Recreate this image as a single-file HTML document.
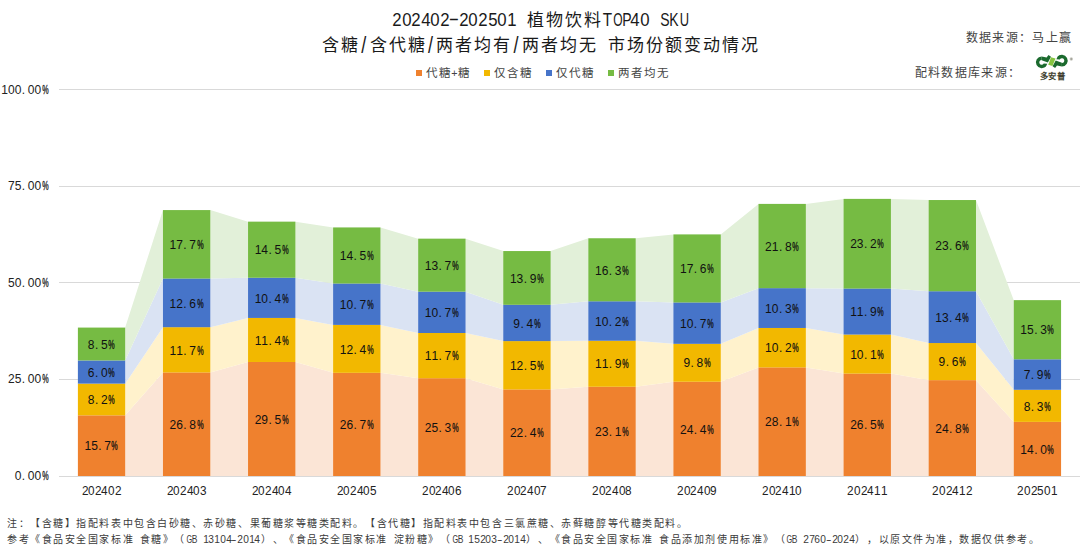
<!DOCTYPE html>
<html lang="zh-CN"><head><meta charset="utf-8"><style>
html,body{margin:0;padding:0;background:#fff;width:1080px;height:549px;overflow:hidden;position:relative;font-family:"Liberation Sans",sans-serif;color:#000}
svg{position:absolute;left:0;top:0}
.r{position:absolute;white-space:nowrap}
.r i{display:inline-block;font-style:normal;text-align:center}
.n{font-size:12px;line-height:16px}
.n i.d{text-align:left;text-indent:0.5px}
.n i.p b{display:inline-block;font-weight:normal;-webkit-text-stroke:0.35px currentColor;transform:scaleX(0.6);transform-origin:center;position:relative;left:-1.5px}
.t{color:#1a1a1a}
.r i b{display:inline-block;font-weight:normal}
.sq{position:absolute;width:6px;height:6px;top:70px}
</style></head><body>
<svg width="1080" height="549" viewBox="0 0 1080 549">
<line x1="59.0" y1="379.5" x2="1080" y2="379.5" stroke="#D9D9D9" stroke-width="1"/>
<line x1="59.0" y1="282.5" x2="1080" y2="282.5" stroke="#D9D9D9" stroke-width="1"/>
<line x1="59.0" y1="186.5" x2="1080" y2="186.5" stroke="#D9D9D9" stroke-width="1"/>
<line x1="59.0" y1="89.5" x2="1080" y2="89.5" stroke="#D9D9D9" stroke-width="1"/>
<polygon points="125.19,415.32 162.97,372.42 210.27,372.42 248.05,361.98 295.35,361.98 333.13,372.80 380.43,372.80 418.21,378.22 465.51,378.22 503.29,389.42 550.59,389.42 588.37,386.72 635.67,386.72 673.45,381.69 720.75,381.69 758.53,367.39 805.83,367.39 843.61,373.58 890.91,373.58 928.69,380.15 975.99,380.15 1013.77,421.89 1013.77,476.00 975.99,476.00 928.69,476.00 890.91,476.00 843.61,476.00 805.83,476.00 758.53,476.00 720.75,476.00 673.45,476.00 635.67,476.00 588.37,476.00 550.59,476.00 503.29,476.00 465.51,476.00 418.21,476.00 380.43,476.00 333.13,476.00 295.35,476.00 248.05,476.00 210.27,476.00 162.97,476.00 125.19,476.00" fill="#FBE5D6"/>
<polygon points="125.19,383.63 162.97,327.20 210.27,327.20 248.05,317.92 295.35,317.92 333.13,324.88 380.43,324.88 418.21,333.00 465.51,333.00 503.29,341.11 550.59,341.11 588.37,340.73 635.67,340.73 673.45,343.82 720.75,343.82 758.53,327.97 805.83,327.97 843.61,334.54 890.91,334.54 928.69,343.04 975.99,343.04 1013.77,389.81 1013.77,421.89 975.99,380.15 928.69,380.15 890.91,373.58 843.61,373.58 805.83,367.39 758.53,367.39 720.75,381.69 673.45,381.69 635.67,386.72 588.37,386.72 550.59,389.42 503.29,389.42 465.51,378.22 418.21,378.22 380.43,372.80 333.13,372.80 295.35,361.98 248.05,361.98 210.27,372.42 162.97,372.42 125.19,415.32" fill="#FFF2CC"/>
<polygon points="125.19,360.44 162.97,278.50 210.27,278.50 248.05,277.73 295.35,277.73 333.13,283.52 380.43,283.52 418.21,291.64 465.51,291.64 503.29,304.78 550.59,304.78 588.37,301.30 635.67,301.30 673.45,302.46 720.75,302.46 758.53,288.16 805.83,288.16 843.61,288.55 890.91,288.55 928.69,291.25 975.99,291.25 1013.77,359.28 1013.77,389.81 975.99,343.04 928.69,343.04 890.91,334.54 843.61,334.54 805.83,327.97 758.53,327.97 720.75,343.82 673.45,343.82 635.67,340.73 588.37,340.73 550.59,341.11 503.29,341.11 465.51,333.00 418.21,333.00 380.43,324.88 333.13,324.88 295.35,317.92 248.05,317.92 210.27,327.20 162.97,327.20 125.19,383.63" fill="#DAE3F3"/>
<polygon points="125.19,327.58 162.97,210.09 210.27,210.09 248.05,221.68 295.35,221.68 333.13,227.48 380.43,227.48 418.21,238.69 465.51,238.69 503.29,251.06 550.59,251.06 588.37,238.30 635.67,238.30 673.45,234.44 720.75,234.44 758.53,203.90 805.83,203.90 843.61,198.88 890.91,198.88 928.69,200.04 975.99,200.04 1013.77,300.14 1013.77,359.28 975.99,291.25 928.69,291.25 890.91,288.55 843.61,288.55 805.83,288.16 758.53,288.16 720.75,302.46 673.45,302.46 635.67,301.30 588.37,301.30 550.59,304.78 503.29,304.78 465.51,291.64 418.21,291.64 380.43,283.52 333.13,283.52 295.35,277.73 248.05,277.73 210.27,278.50 162.97,278.50 125.19,360.44" fill="#E2F0D9"/>
<line x1="59.0" y1="476.5" x2="1080" y2="476.5" stroke="#D9D9D9" stroke-width="1"/>
<rect x="77.89" y="415.32" width="47.3" height="60.68" fill="#EF812E"/>
<rect x="77.89" y="383.63" width="47.3" height="31.69" fill="#F2B800"/>
<rect x="77.89" y="360.44" width="47.3" height="23.19" fill="#4674C9"/>
<rect x="77.89" y="327.58" width="47.3" height="32.85" fill="#76BB43"/>
<rect x="162.97" y="372.42" width="47.3" height="103.58" fill="#EF812E"/>
<rect x="162.97" y="327.20" width="47.3" height="45.22" fill="#F2B800"/>
<rect x="162.97" y="278.50" width="47.3" height="48.70" fill="#4674C9"/>
<rect x="162.97" y="210.09" width="47.3" height="68.41" fill="#76BB43"/>
<rect x="248.05" y="361.98" width="47.3" height="114.02" fill="#EF812E"/>
<rect x="248.05" y="317.92" width="47.3" height="44.06" fill="#F2B800"/>
<rect x="248.05" y="277.73" width="47.3" height="40.20" fill="#4674C9"/>
<rect x="248.05" y="221.68" width="47.3" height="56.04" fill="#76BB43"/>
<rect x="333.13" y="372.80" width="47.3" height="103.20" fill="#EF812E"/>
<rect x="333.13" y="324.88" width="47.3" height="47.93" fill="#F2B800"/>
<rect x="333.13" y="283.52" width="47.3" height="41.36" fill="#4674C9"/>
<rect x="333.13" y="227.48" width="47.3" height="56.04" fill="#76BB43"/>
<rect x="418.21" y="378.22" width="47.3" height="97.78" fill="#EF812E"/>
<rect x="418.21" y="333.00" width="47.3" height="45.22" fill="#F2B800"/>
<rect x="418.21" y="291.64" width="47.3" height="41.36" fill="#4674C9"/>
<rect x="418.21" y="238.69" width="47.3" height="52.95" fill="#76BB43"/>
<rect x="503.29" y="389.42" width="47.3" height="86.58" fill="#EF812E"/>
<rect x="503.29" y="341.11" width="47.3" height="48.31" fill="#F2B800"/>
<rect x="503.29" y="304.78" width="47.3" height="36.33" fill="#4674C9"/>
<rect x="503.29" y="251.06" width="47.3" height="53.72" fill="#76BB43"/>
<rect x="588.37" y="386.72" width="47.3" height="89.28" fill="#EF812E"/>
<rect x="588.37" y="340.73" width="47.3" height="45.99" fill="#F2B800"/>
<rect x="588.37" y="301.30" width="47.3" height="39.42" fill="#4674C9"/>
<rect x="588.37" y="238.30" width="47.3" height="63.00" fill="#76BB43"/>
<rect x="673.45" y="381.69" width="47.3" height="94.31" fill="#EF812E"/>
<rect x="673.45" y="343.82" width="47.3" height="37.88" fill="#F2B800"/>
<rect x="673.45" y="302.46" width="47.3" height="41.36" fill="#4674C9"/>
<rect x="673.45" y="234.44" width="47.3" height="68.02" fill="#76BB43"/>
<rect x="758.53" y="367.39" width="47.3" height="108.61" fill="#EF812E"/>
<rect x="758.53" y="327.97" width="47.3" height="39.42" fill="#F2B800"/>
<rect x="758.53" y="288.16" width="47.3" height="39.81" fill="#4674C9"/>
<rect x="758.53" y="203.90" width="47.3" height="84.26" fill="#76BB43"/>
<rect x="843.61" y="373.58" width="47.3" height="102.42" fill="#EF812E"/>
<rect x="843.61" y="334.54" width="47.3" height="39.04" fill="#F2B800"/>
<rect x="843.61" y="288.55" width="47.3" height="45.99" fill="#4674C9"/>
<rect x="843.61" y="198.88" width="47.3" height="89.67" fill="#76BB43"/>
<rect x="928.69" y="380.15" width="47.3" height="95.85" fill="#EF812E"/>
<rect x="928.69" y="343.04" width="47.3" height="37.10" fill="#F2B800"/>
<rect x="928.69" y="291.25" width="47.3" height="51.79" fill="#4674C9"/>
<rect x="928.69" y="200.04" width="47.3" height="91.21" fill="#76BB43"/>
<rect x="1013.77" y="421.89" width="47.3" height="54.11" fill="#EF812E"/>
<rect x="1013.77" y="389.81" width="47.3" height="32.08" fill="#F2B800"/>
<rect x="1013.77" y="359.28" width="47.3" height="30.53" fill="#4674C9"/>
<rect x="1013.77" y="300.14" width="47.3" height="59.13" fill="#76BB43"/>
<path d="M1041.70,58.25 A4.1,4.1 0 1 0 1045.06,64.70" fill="none" stroke="#1B6A2E" stroke-width="3.4"/>
<polygon points="1041.70,56.50 1046.60,57.50 1048.50,55.10 1051.00,56.80 1047.90,62.40 1041.70,60.20" fill="#1B6A2E"/><polygon points="1043.60,63.60 1047.30,63.70 1045.90,66.30 1044.50,67.20" fill="#1B6A2E"/>
<path d="M1061.90,64.75 A4.1,4.1 0 1 0 1058.54,58.30" fill="none" stroke="#1B6A2E" stroke-width="3.4"/>
<polygon points="1061.90,66.50 1057.00,65.50 1055.10,67.90 1052.60,66.20 1055.70,60.60 1061.90,62.80" fill="#1B6A2E"/><polygon points="1060.00,59.40 1056.30,59.30 1057.70,56.70 1059.10,55.80" fill="#1B6A2E"/>
<polygon points="1051.00,57.20 1055.50,58.50 1052.50,66.00 1048.20,64.70" fill="#86C540"/>
<circle cx="1071.3" cy="59.0" r="1.7" fill="#C8C8C0"/><circle cx="1071.3" cy="59.0" r="0.8" fill="#909088"/>
</svg>
<div class="r n" style="left:84.48px;top:438.36px;color:#111"><i style="width:6.67px">1</i><i style="width:6.67px">5</i><i class="d" style="width:6.5px">.</i><i style="width:6.67px">7</i><i class="p" style="width:6.0px"><b>%</b></i></div>
<div class="r n" style="left:87.82px;top:392.17px;color:#111"><i style="width:6.67px">8</i><i class="d" style="width:6.5px">.</i><i style="width:6.67px">2</i><i class="p" style="width:6.0px"><b>%</b></i></div>
<div class="r n" style="left:87.82px;top:364.73px;color:#111"><i style="width:6.67px">6</i><i class="d" style="width:6.5px">.</i><i style="width:6.67px">0</i><i class="p" style="width:6.0px"><b>%</b></i></div>
<div class="r n" style="left:87.82px;top:336.71px;color:#111"><i style="width:6.67px">8</i><i class="d" style="width:6.5px">.</i><i style="width:6.67px">5</i><i class="p" style="width:6.0px"><b>%</b></i></div>
<div class="r " style="left:81.53px;top:483.50px;font-size:12px;line-height:14px;color:#222;"><i style="width:6.67px"><b style="transform:scaleX(0.979)">2</b></i><i style="width:6.67px"><b style="transform:scaleX(0.979)">0</b></i><i style="width:6.67px"><b style="transform:scaleX(0.979)">2</b></i><i style="width:6.67px"><b style="transform:scaleX(0.979)">4</b></i><i style="width:6.67px"><b style="transform:scaleX(0.979)">0</b></i><i style="width:6.67px"><b style="transform:scaleX(0.979)">2</b></i></div>
<div class="r n" style="left:169.56px;top:416.91px;color:#111"><i style="width:6.67px">2</i><i style="width:6.67px">6</i><i class="d" style="width:6.5px">.</i><i style="width:6.67px">8</i><i class="p" style="width:6.0px"><b>%</b></i></div>
<div class="r n" style="left:169.56px;top:342.51px;color:#111"><i style="width:6.67px">1</i><i style="width:6.67px">1</i><i class="d" style="width:6.5px">.</i><i style="width:6.67px">7</i><i class="p" style="width:6.0px"><b>%</b></i></div>
<div class="r n" style="left:169.56px;top:295.55px;color:#111"><i style="width:6.67px">1</i><i style="width:6.67px">2</i><i class="d" style="width:6.5px">.</i><i style="width:6.67px">6</i><i class="p" style="width:6.0px"><b>%</b></i></div>
<div class="r n" style="left:169.56px;top:236.99px;color:#111"><i style="width:6.67px">1</i><i style="width:6.67px">7</i><i class="d" style="width:6.5px">.</i><i style="width:6.67px">7</i><i class="p" style="width:6.0px"><b>%</b></i></div>
<div class="r " style="left:166.61px;top:483.50px;font-size:12px;line-height:14px;color:#222;"><i style="width:6.67px"><b style="transform:scaleX(0.979)">2</b></i><i style="width:6.67px"><b style="transform:scaleX(0.979)">0</b></i><i style="width:6.67px"><b style="transform:scaleX(0.979)">2</b></i><i style="width:6.67px"><b style="transform:scaleX(0.979)">4</b></i><i style="width:6.67px"><b style="transform:scaleX(0.979)">0</b></i><i style="width:6.67px"><b style="transform:scaleX(0.979)">3</b></i></div>
<div class="r n" style="left:254.64px;top:411.69px;color:#111"><i style="width:6.67px">2</i><i style="width:6.67px">9</i><i class="d" style="width:6.5px">.</i><i style="width:6.67px">5</i><i class="p" style="width:6.0px"><b>%</b></i></div>
<div class="r n" style="left:254.64px;top:332.65px;color:#111"><i style="width:6.67px">1</i><i style="width:6.67px">1</i><i class="d" style="width:6.5px">.</i><i style="width:6.67px">4</i><i class="p" style="width:6.0px"><b>%</b></i></div>
<div class="r n" style="left:254.64px;top:290.52px;color:#111"><i style="width:6.67px">1</i><i style="width:6.67px">0</i><i class="d" style="width:6.5px">.</i><i style="width:6.67px">4</i><i class="p" style="width:6.0px"><b>%</b></i></div>
<div class="r n" style="left:254.64px;top:242.40px;color:#111"><i style="width:6.67px">1</i><i style="width:6.67px">4</i><i class="d" style="width:6.5px">.</i><i style="width:6.67px">5</i><i class="p" style="width:6.0px"><b>%</b></i></div>
<div class="r " style="left:251.69px;top:483.50px;font-size:12px;line-height:14px;color:#222;"><i style="width:6.67px"><b style="transform:scaleX(0.979)">2</b></i><i style="width:6.67px"><b style="transform:scaleX(0.979)">0</b></i><i style="width:6.67px"><b style="transform:scaleX(0.979)">2</b></i><i style="width:6.67px"><b style="transform:scaleX(0.979)">4</b></i><i style="width:6.67px"><b style="transform:scaleX(0.979)">0</b></i><i style="width:6.67px"><b style="transform:scaleX(0.979)">4</b></i></div>
<div class="r n" style="left:339.72px;top:417.10px;color:#111"><i style="width:6.67px">2</i><i style="width:6.67px">6</i><i class="d" style="width:6.5px">.</i><i style="width:6.67px">7</i><i class="p" style="width:6.0px"><b>%</b></i></div>
<div class="r n" style="left:339.72px;top:341.54px;color:#111"><i style="width:6.67px">1</i><i style="width:6.67px">2</i><i class="d" style="width:6.5px">.</i><i style="width:6.67px">4</i><i class="p" style="width:6.0px"><b>%</b></i></div>
<div class="r n" style="left:339.72px;top:296.90px;color:#111"><i style="width:6.67px">1</i><i style="width:6.67px">0</i><i class="d" style="width:6.5px">.</i><i style="width:6.67px">7</i><i class="p" style="width:6.0px"><b>%</b></i></div>
<div class="r n" style="left:339.72px;top:248.20px;color:#111"><i style="width:6.67px">1</i><i style="width:6.67px">4</i><i class="d" style="width:6.5px">.</i><i style="width:6.67px">5</i><i class="p" style="width:6.0px"><b>%</b></i></div>
<div class="r " style="left:336.77px;top:483.50px;font-size:12px;line-height:14px;color:#222;"><i style="width:6.67px"><b style="transform:scaleX(0.979)">2</b></i><i style="width:6.67px"><b style="transform:scaleX(0.979)">0</b></i><i style="width:6.67px"><b style="transform:scaleX(0.979)">2</b></i><i style="width:6.67px"><b style="transform:scaleX(0.979)">4</b></i><i style="width:6.67px"><b style="transform:scaleX(0.979)">0</b></i><i style="width:6.67px"><b style="transform:scaleX(0.979)">5</b></i></div>
<div class="r n" style="left:424.81px;top:419.81px;color:#111"><i style="width:6.67px">2</i><i style="width:6.67px">5</i><i class="d" style="width:6.5px">.</i><i style="width:6.67px">3</i><i class="p" style="width:6.0px"><b>%</b></i></div>
<div class="r n" style="left:424.81px;top:348.31px;color:#111"><i style="width:6.67px">1</i><i style="width:6.67px">1</i><i class="d" style="width:6.5px">.</i><i style="width:6.67px">7</i><i class="p" style="width:6.0px"><b>%</b></i></div>
<div class="r n" style="left:424.81px;top:305.02px;color:#111"><i style="width:6.67px">1</i><i style="width:6.67px">0</i><i class="d" style="width:6.5px">.</i><i style="width:6.67px">7</i><i class="p" style="width:6.0px"><b>%</b></i></div>
<div class="r n" style="left:424.81px;top:257.86px;color:#111"><i style="width:6.67px">1</i><i style="width:6.67px">3</i><i class="d" style="width:6.5px">.</i><i style="width:6.67px">7</i><i class="p" style="width:6.0px"><b>%</b></i></div>
<div class="r " style="left:421.85px;top:483.50px;font-size:12px;line-height:14px;color:#222;"><i style="width:6.67px"><b style="transform:scaleX(0.979)">2</b></i><i style="width:6.67px"><b style="transform:scaleX(0.979)">0</b></i><i style="width:6.67px"><b style="transform:scaleX(0.979)">2</b></i><i style="width:6.67px"><b style="transform:scaleX(0.979)">4</b></i><i style="width:6.67px"><b style="transform:scaleX(0.979)">0</b></i><i style="width:6.67px"><b style="transform:scaleX(0.979)">6</b></i></div>
<div class="r n" style="left:509.89px;top:425.41px;color:#111"><i style="width:6.67px">2</i><i style="width:6.67px">2</i><i class="d" style="width:6.5px">.</i><i style="width:6.67px">4</i><i class="p" style="width:6.0px"><b>%</b></i></div>
<div class="r n" style="left:509.89px;top:357.97px;color:#111"><i style="width:6.67px">1</i><i style="width:6.67px">2</i><i class="d" style="width:6.5px">.</i><i style="width:6.67px">5</i><i class="p" style="width:6.0px"><b>%</b></i></div>
<div class="r n" style="left:513.22px;top:315.65px;color:#111"><i style="width:6.67px">9</i><i class="d" style="width:6.5px">.</i><i style="width:6.67px">4</i><i class="p" style="width:6.0px"><b>%</b></i></div>
<div class="r n" style="left:509.89px;top:270.62px;color:#111"><i style="width:6.67px">1</i><i style="width:6.67px">3</i><i class="d" style="width:6.5px">.</i><i style="width:6.67px">9</i><i class="p" style="width:6.0px"><b>%</b></i></div>
<div class="r " style="left:506.93px;top:483.50px;font-size:12px;line-height:14px;color:#222;"><i style="width:6.67px"><b style="transform:scaleX(0.979)">2</b></i><i style="width:6.67px"><b style="transform:scaleX(0.979)">0</b></i><i style="width:6.67px"><b style="transform:scaleX(0.979)">2</b></i><i style="width:6.67px"><b style="transform:scaleX(0.979)">4</b></i><i style="width:6.67px"><b style="transform:scaleX(0.979)">0</b></i><i style="width:6.67px"><b style="transform:scaleX(0.979)">7</b></i></div>
<div class="r n" style="left:594.97px;top:424.06px;color:#111"><i style="width:6.67px">2</i><i style="width:6.67px">3</i><i class="d" style="width:6.5px">.</i><i style="width:6.67px">1</i><i class="p" style="width:6.0px"><b>%</b></i></div>
<div class="r n" style="left:594.97px;top:356.42px;color:#111"><i style="width:6.67px">1</i><i style="width:6.67px">1</i><i class="d" style="width:6.5px">.</i><i style="width:6.67px">9</i><i class="p" style="width:6.0px"><b>%</b></i></div>
<div class="r n" style="left:594.97px;top:313.71px;color:#111"><i style="width:6.67px">1</i><i style="width:6.67px">0</i><i class="d" style="width:6.5px">.</i><i style="width:6.67px">2</i><i class="p" style="width:6.0px"><b>%</b></i></div>
<div class="r n" style="left:594.97px;top:262.50px;color:#111"><i style="width:6.67px">1</i><i style="width:6.67px">6</i><i class="d" style="width:6.5px">.</i><i style="width:6.67px">3</i><i class="p" style="width:6.0px"><b>%</b></i></div>
<div class="r " style="left:592.01px;top:483.50px;font-size:12px;line-height:14px;color:#222;"><i style="width:6.67px"><b style="transform:scaleX(0.979)">2</b></i><i style="width:6.67px"><b style="transform:scaleX(0.979)">0</b></i><i style="width:6.67px"><b style="transform:scaleX(0.979)">2</b></i><i style="width:6.67px"><b style="transform:scaleX(0.979)">4</b></i><i style="width:6.67px"><b style="transform:scaleX(0.979)">0</b></i><i style="width:6.67px"><b style="transform:scaleX(0.979)">8</b></i></div>
<div class="r n" style="left:680.05px;top:421.55px;color:#111"><i style="width:6.67px">2</i><i style="width:6.67px">4</i><i class="d" style="width:6.5px">.</i><i style="width:6.67px">4</i><i class="p" style="width:6.0px"><b>%</b></i></div>
<div class="r n" style="left:683.38px;top:355.46px;color:#111"><i style="width:6.67px">9</i><i class="d" style="width:6.5px">.</i><i style="width:6.67px">8</i><i class="p" style="width:6.0px"><b>%</b></i></div>
<div class="r n" style="left:680.05px;top:315.84px;color:#111"><i style="width:6.67px">1</i><i style="width:6.67px">0</i><i class="d" style="width:6.5px">.</i><i style="width:6.67px">7</i><i class="p" style="width:6.0px"><b>%</b></i></div>
<div class="r n" style="left:680.05px;top:261.15px;color:#111"><i style="width:6.67px">1</i><i style="width:6.67px">7</i><i class="d" style="width:6.5px">.</i><i style="width:6.67px">6</i><i class="p" style="width:6.0px"><b>%</b></i></div>
<div class="r " style="left:677.09px;top:483.50px;font-size:12px;line-height:14px;color:#222;"><i style="width:6.67px"><b style="transform:scaleX(0.979)">2</b></i><i style="width:6.67px"><b style="transform:scaleX(0.979)">0</b></i><i style="width:6.67px"><b style="transform:scaleX(0.979)">2</b></i><i style="width:6.67px"><b style="transform:scaleX(0.979)">4</b></i><i style="width:6.67px"><b style="transform:scaleX(0.979)">0</b></i><i style="width:6.67px"><b style="transform:scaleX(0.979)">9</b></i></div>
<div class="r n" style="left:765.12px;top:414.40px;color:#111"><i style="width:6.67px">2</i><i style="width:6.67px">8</i><i class="d" style="width:6.5px">.</i><i style="width:6.67px">1</i><i class="p" style="width:6.0px"><b>%</b></i></div>
<div class="r n" style="left:765.12px;top:340.38px;color:#111"><i style="width:6.67px">1</i><i style="width:6.67px">0</i><i class="d" style="width:6.5px">.</i><i style="width:6.67px">2</i><i class="p" style="width:6.0px"><b>%</b></i></div>
<div class="r n" style="left:765.12px;top:300.77px;color:#111"><i style="width:6.67px">1</i><i style="width:6.67px">0</i><i class="d" style="width:6.5px">.</i><i style="width:6.67px">3</i><i class="p" style="width:6.0px"><b>%</b></i></div>
<div class="r n" style="left:765.12px;top:238.73px;color:#111"><i style="width:6.67px">2</i><i style="width:6.67px">1</i><i class="d" style="width:6.5px">.</i><i style="width:6.67px">8</i><i class="p" style="width:6.0px"><b>%</b></i></div>
<div class="r " style="left:762.17px;top:483.50px;font-size:12px;line-height:14px;color:#222;"><i style="width:6.67px"><b style="transform:scaleX(0.979)">2</b></i><i style="width:6.67px"><b style="transform:scaleX(0.979)">0</b></i><i style="width:6.67px"><b style="transform:scaleX(0.979)">2</b></i><i style="width:6.67px"><b style="transform:scaleX(0.979)">4</b></i><i style="width:6.67px"><b style="transform:scaleX(0.979)">1</b></i><i style="width:6.67px"><b style="transform:scaleX(0.979)">0</b></i></div>
<div class="r n" style="left:850.21px;top:417.49px;color:#111"><i style="width:6.67px">2</i><i style="width:6.67px">6</i><i class="d" style="width:6.5px">.</i><i style="width:6.67px">5</i><i class="p" style="width:6.0px"><b>%</b></i></div>
<div class="r n" style="left:850.21px;top:346.76px;color:#111"><i style="width:6.67px">1</i><i style="width:6.67px">0</i><i class="d" style="width:6.5px">.</i><i style="width:6.67px">1</i><i class="p" style="width:6.0px"><b>%</b></i></div>
<div class="r n" style="left:850.21px;top:304.24px;color:#111"><i style="width:6.67px">1</i><i style="width:6.67px">1</i><i class="d" style="width:6.5px">.</i><i style="width:6.67px">9</i><i class="p" style="width:6.0px"><b>%</b></i></div>
<div class="r n" style="left:850.21px;top:236.41px;color:#111"><i style="width:6.67px">2</i><i style="width:6.67px">3</i><i class="d" style="width:6.5px">.</i><i style="width:6.67px">2</i><i class="p" style="width:6.0px"><b>%</b></i></div>
<div class="r " style="left:847.25px;top:483.50px;font-size:12px;line-height:14px;color:#222;"><i style="width:6.67px"><b style="transform:scaleX(0.979)">2</b></i><i style="width:6.67px"><b style="transform:scaleX(0.979)">0</b></i><i style="width:6.67px"><b style="transform:scaleX(0.979)">2</b></i><i style="width:6.67px"><b style="transform:scaleX(0.979)">4</b></i><i style="width:6.67px"><b style="transform:scaleX(0.979)">1</b></i><i style="width:6.67px"><b style="transform:scaleX(0.979)">1</b></i></div>
<div class="r n" style="left:935.29px;top:420.77px;color:#111"><i style="width:6.67px">2</i><i style="width:6.67px">4</i><i class="d" style="width:6.5px">.</i><i style="width:6.67px">8</i><i class="p" style="width:6.0px"><b>%</b></i></div>
<div class="r n" style="left:938.62px;top:354.30px;color:#111"><i style="width:6.67px">9</i><i class="d" style="width:6.5px">.</i><i style="width:6.67px">6</i><i class="p" style="width:6.0px"><b>%</b></i></div>
<div class="r n" style="left:935.29px;top:309.85px;color:#111"><i style="width:6.67px">1</i><i style="width:6.67px">3</i><i class="d" style="width:6.5px">.</i><i style="width:6.67px">4</i><i class="p" style="width:6.0px"><b>%</b></i></div>
<div class="r n" style="left:935.29px;top:238.35px;color:#111"><i style="width:6.67px">2</i><i style="width:6.67px">3</i><i class="d" style="width:6.5px">.</i><i style="width:6.67px">6</i><i class="p" style="width:6.0px"><b>%</b></i></div>
<div class="r " style="left:932.33px;top:483.50px;font-size:12px;line-height:14px;color:#222;"><i style="width:6.67px"><b style="transform:scaleX(0.979)">2</b></i><i style="width:6.67px"><b style="transform:scaleX(0.979)">0</b></i><i style="width:6.67px"><b style="transform:scaleX(0.979)">2</b></i><i style="width:6.67px"><b style="transform:scaleX(0.979)">4</b></i><i style="width:6.67px"><b style="transform:scaleX(0.979)">1</b></i><i style="width:6.67px"><b style="transform:scaleX(0.979)">2</b></i></div>
<div class="r n" style="left:1020.37px;top:441.64px;color:#111"><i style="width:6.67px">1</i><i style="width:6.67px">4</i><i class="d" style="width:6.5px">.</i><i style="width:6.67px">0</i><i class="p" style="width:6.0px"><b>%</b></i></div>
<div class="r n" style="left:1023.70px;top:398.55px;color:#111"><i style="width:6.67px">8</i><i class="d" style="width:6.5px">.</i><i style="width:6.67px">3</i><i class="p" style="width:6.0px"><b>%</b></i></div>
<div class="r n" style="left:1023.70px;top:367.24px;color:#111"><i style="width:6.67px">7</i><i class="d" style="width:6.5px">.</i><i style="width:6.67px">9</i><i class="p" style="width:6.0px"><b>%</b></i></div>
<div class="r n" style="left:1020.37px;top:322.41px;color:#111"><i style="width:6.67px">1</i><i style="width:6.67px">5</i><i class="d" style="width:6.5px">.</i><i style="width:6.67px">3</i><i class="p" style="width:6.0px"><b>%</b></i></div>
<div class="r " style="left:1017.41px;top:483.50px;font-size:12px;line-height:14px;color:#222;"><i style="width:6.67px"><b style="transform:scaleX(0.979)">2</b></i><i style="width:6.67px"><b style="transform:scaleX(0.979)">0</b></i><i style="width:6.67px"><b style="transform:scaleX(0.979)">2</b></i><i style="width:6.67px"><b style="transform:scaleX(0.979)">5</b></i><i style="width:6.67px"><b style="transform:scaleX(0.979)">0</b></i><i style="width:6.67px"><b style="transform:scaleX(0.979)">1</b></i></div>
<div class="r n" style="left:14.69px;top:468.20px;color:#222"><i style="width:6.67px">0</i><i class="d" style="width:6.5px">.</i><i style="width:6.67px">0</i><i style="width:6.67px">0</i><i class="p" style="width:6.0px"><b>%</b></i></div>
<div class="r n" style="left:8.02px;top:371.20px;color:#222"><i style="width:6.67px">2</i><i style="width:6.67px">5</i><i class="d" style="width:6.5px">.</i><i style="width:6.67px">0</i><i style="width:6.67px">0</i><i class="p" style="width:6.0px"><b>%</b></i></div>
<div class="r n" style="left:8.02px;top:275.20px;color:#222"><i style="width:6.67px">5</i><i style="width:6.67px">0</i><i class="d" style="width:6.5px">.</i><i style="width:6.67px">0</i><i style="width:6.67px">0</i><i class="p" style="width:6.0px"><b>%</b></i></div>
<div class="r n" style="left:8.02px;top:178.20px;color:#222"><i style="width:6.67px">7</i><i style="width:6.67px">5</i><i class="d" style="width:6.5px">.</i><i style="width:6.67px">0</i><i style="width:6.67px">0</i><i class="p" style="width:6.0px"><b>%</b></i></div>
<div class="r n" style="left:1.35px;top:82.20px;color:#222"><i style="width:6.67px">1</i><i style="width:6.67px">0</i><i style="width:6.67px">0</i><i class="d" style="width:6.5px">.</i><i style="width:6.67px">0</i><i style="width:6.67px">0</i><i class="p" style="width:6.0px"><b>%</b></i></div>
<div class="r t" style="left:392.36px;top:9.00px;font-size:18px;line-height:22px;"><i style="width:9.53px"><b style="transform:scaleX(0.932)">2</b></i><i style="width:9.53px"><b style="transform:scaleX(0.932)">0</b></i><i style="width:9.53px"><b style="transform:scaleX(0.932)">2</b></i><i style="width:9.53px"><b style="transform:scaleX(0.932)">4</b></i><i style="width:9.53px"><b style="transform:scaleX(0.932)">0</b></i><i style="width:9.53px"><b style="transform:scaleX(0.932)">2</b></i><i style="width:9.53px"><b style="transform:scaleX(1.8) translateY(-1px)">-</b></i><i style="width:9.53px"><b style="transform:scaleX(0.932)">2</b></i><i style="width:9.53px"><b style="transform:scaleX(0.932)">0</b></i><i style="width:9.53px"><b style="transform:scaleX(0.932)">2</b></i><i style="width:9.53px"><b style="transform:scaleX(0.932)">5</b></i><i style="width:9.53px"><b style="transform:scaleX(0.932)">0</b></i><i style="width:9.53px"><b style="transform:scaleX(0.932)">1</b></i><i style="width:9.53px">&nbsp;</i><i style="width:19.05px;font-size:17px">植</i><i style="width:19.05px;font-size:17px">物</i><i style="width:19.05px;font-size:17px">饮</i><i style="width:19.05px;font-size:17px">料</i><i style="width:9.53px"><b style="transform:scaleX(0.849)">T</b></i><i style="width:9.53px"><b style="transform:scaleX(0.667)">O</b></i><i style="width:9.53px"><b style="transform:scaleX(0.777)">P</b></i><i style="width:9.53px"><b style="transform:scaleX(0.932)">4</b></i><i style="width:9.53px"><b style="transform:scaleX(0.932)">0</b></i><i style="width:9.53px">&nbsp;</i><i style="width:9.53px"><b style="transform:scaleX(0.777)">S</b></i><i style="width:9.53px"><b style="transform:scaleX(0.777)">K</b></i><i style="width:9.53px"><b style="transform:scaleX(0.718)">U</b></i></div>
<div class="r t" style="left:320.92px;top:33.70px;font-size:18px;line-height:22px;"><i style="width:19.05px;font-size:17px">含</i><i style="width:19.05px;font-size:17px">糖</i><i style="width:9.53px"><b style="transform:scaleY(1.3) translateY(0.5px)">/</b></i><i style="width:19.05px;font-size:17px">含</i><i style="width:19.05px;font-size:17px">代</i><i style="width:19.05px;font-size:17px">糖</i><i style="width:9.53px"><b style="transform:scaleY(1.3) translateY(0.5px)">/</b></i><i style="width:19.05px;font-size:17px">两</i><i style="width:19.05px;font-size:17px">者</i><i style="width:19.05px;font-size:17px">均</i><i style="width:19.05px;font-size:17px">有</i><i style="width:9.53px"><b style="transform:scaleY(1.3) translateY(0.5px)">/</b></i><i style="width:19.05px;font-size:17px">两</i><i style="width:19.05px;font-size:17px">者</i><i style="width:19.05px;font-size:17px">均</i><i style="width:19.05px;font-size:17px">无</i><i style="width:9.53px">&nbsp;</i><i style="width:19.05px;font-size:17px">市</i><i style="width:19.05px;font-size:17px">场</i><i style="width:19.05px;font-size:17px">份</i><i style="width:19.05px;font-size:17px">额</i><i style="width:19.05px;font-size:17px">变</i><i style="width:19.05px;font-size:17px">动</i><i style="width:19.05px;font-size:17px">情</i><i style="width:19.05px;font-size:17px">况</i></div>
<div class="sq" style="left:416px;background:#EF812E"></div>
<div class="r " style="left:425.50px;top:65.00px;font-size:11.5px;line-height:16px;color:#444;"><i style="width:12.80px">代</i><i style="width:12.80px">糖</i><i style="width:6.40px"><b style="transform:scaleX(0.934)">+</b></i><i style="width:12.80px">糖</i></div>
<div class="sq" style="left:484px;background:#F2B800"></div>
<div class="r " style="left:493.50px;top:65.00px;font-size:11.5px;line-height:16px;color:#444;"><i style="width:12.80px">仅</i><i style="width:12.80px">含</i><i style="width:12.80px">糖</i></div>
<div class="sq" style="left:546px;background:#4674C9"></div>
<div class="r " style="left:555.50px;top:65.00px;font-size:11.5px;line-height:16px;color:#444;"><i style="width:12.80px">仅</i><i style="width:12.80px">代</i><i style="width:12.80px">糖</i></div>
<div class="sq" style="left:608px;background:#76BB43"></div>
<div class="r " style="left:617.50px;top:65.00px;font-size:11.5px;line-height:16px;color:#444;"><i style="width:12.80px">两</i><i style="width:12.80px">者</i><i style="width:12.80px">均</i><i style="width:12.80px">无</i></div>
<div class="r " style="left:965.10px;top:30.00px;font-size:12px;line-height:16px;color:#444;"><i style="width:13.30px">数</i><i style="width:13.30px">据</i><i style="width:13.30px">来</i><i style="width:13.30px">源</i><i style="width:13.30px">：</i><i style="width:13.30px">马</i><i style="width:13.30px">上</i><i style="width:13.30px">赢</i></div>
<div class="r " style="left:914.10px;top:65.00px;font-size:12px;line-height:16px;color:#444;"><i style="width:13.30px">配</i><i style="width:13.30px">料</i><i style="width:13.30px">数</i><i style="width:13.30px">据</i><i style="width:13.30px">库</i><i style="width:13.30px">来</i><i style="width:13.30px">源</i><i style="width:13.30px">：</i></div>
<div class="r " style="left:6.30px;top:516.70px;font-size:10px;line-height:14px;color:#3a3a3a;"><i style="width:11.56px">注</i><i style="width:11.56px">：</i><i style="width:11.56px">【</i><i style="width:11.56px">含</i><i style="width:11.56px">糖</i><i style="width:11.56px">】</i><i style="width:11.56px">指</i><i style="width:11.56px">配</i><i style="width:11.56px">料</i><i style="width:11.56px">表</i><i style="width:11.56px">中</i><i style="width:11.56px">包</i><i style="width:11.56px">含</i><i style="width:11.56px">白</i><i style="width:11.56px">砂</i><i style="width:11.56px">糖</i><i style="width:11.56px">、</i><i style="width:11.56px">赤</i><i style="width:11.56px">砂</i><i style="width:11.56px">糖</i><i style="width:11.56px">、</i><i style="width:11.56px">果</i><i style="width:11.56px">葡</i><i style="width:11.56px">糖</i><i style="width:11.56px">浆</i><i style="width:11.56px">等</i><i style="width:11.56px">糖</i><i style="width:11.56px">类</i><i style="width:11.56px">配</i><i style="width:11.56px">料</i><i style="width:11.56px">。</i><i style="width:11.56px">【</i><i style="width:11.56px">含</i><i style="width:11.56px">代</i><i style="width:11.56px">糖</i><i style="width:11.56px">】</i><i style="width:11.56px">指</i><i style="width:11.56px">配</i><i style="width:11.56px">料</i><i style="width:11.56px">表</i><i style="width:11.56px">中</i><i style="width:11.56px">包</i><i style="width:11.56px">含</i><i style="width:11.56px">三</i><i style="width:11.56px">氯</i><i style="width:11.56px">蔗</i><i style="width:11.56px">糖</i><i style="width:11.56px">、</i><i style="width:11.56px">赤</i><i style="width:11.56px">藓</i><i style="width:11.56px">糖</i><i style="width:11.56px">醇</i><i style="width:11.56px">等</i><i style="width:11.56px">代</i><i style="width:11.56px">糖</i><i style="width:11.56px">类</i><i style="width:11.56px">配</i><i style="width:11.56px">料</i><i style="width:11.56px">。</i></div>
<div class="r " style="left:6.30px;top:532.20px;font-size:10px;line-height:14px;color:#3a3a3a;"><i style="width:11.56px">参</i><i style="width:11.56px">考</i><i style="width:11.56px">《</i><i style="width:11.56px">食</i><i style="width:11.56px">品</i><i style="width:11.56px">安</i><i style="width:11.56px">全</i><i style="width:11.56px">国</i><i style="width:11.56px">家</i><i style="width:11.56px">标</i><i style="width:11.56px">准</i><i style="width:5.78px;font-size:11px">&nbsp;</i><i style="width:11.56px">食</i><i style="width:11.56px">糖</i><i style="width:11.56px">》</i><i style="width:11.56px">（</i><i style="width:5.78px;font-size:11px"><b style="transform:scaleX(0.662)">G</b></i><i style="width:5.78px;font-size:11px"><b style="transform:scaleX(0.772)">B</b></i><i style="width:5.78px;font-size:11px">&nbsp;</i><i style="width:5.78px;font-size:11px"><b style="transform:scaleX(0.926)">1</b></i><i style="width:5.78px;font-size:11px"><b style="transform:scaleX(0.926)">3</b></i><i style="width:5.78px;font-size:11px"><b style="transform:scaleX(0.926)">1</b></i><i style="width:5.78px;font-size:11px"><b style="transform:scaleX(0.926)">0</b></i><i style="width:5.78px;font-size:11px"><b style="transform:scaleX(0.926)">4</b></i><i style="width:5.78px;font-size:11px"><b style="transform:scaleX(1.500)">-</b></i><i style="width:5.78px;font-size:11px"><b style="transform:scaleX(0.926)">2</b></i><i style="width:5.78px;font-size:11px"><b style="transform:scaleX(0.926)">0</b></i><i style="width:5.78px;font-size:11px"><b style="transform:scaleX(0.926)">1</b></i><i style="width:5.78px;font-size:11px"><b style="transform:scaleX(0.926)">4</b></i><i style="width:11.56px">）</i><i style="width:11.56px">、</i><i style="width:11.56px">《</i><i style="width:11.56px">食</i><i style="width:11.56px">品</i><i style="width:11.56px">安</i><i style="width:11.56px">全</i><i style="width:11.56px">国</i><i style="width:11.56px">家</i><i style="width:11.56px">标</i><i style="width:11.56px">准</i><i style="width:5.78px;font-size:11px">&nbsp;</i><i style="width:11.56px">淀</i><i style="width:11.56px">粉</i><i style="width:11.56px">糖</i><i style="width:11.56px">》</i><i style="width:11.56px">（</i><i style="width:5.78px;font-size:11px"><b style="transform:scaleX(0.662)">G</b></i><i style="width:5.78px;font-size:11px"><b style="transform:scaleX(0.772)">B</b></i><i style="width:5.78px;font-size:11px">&nbsp;</i><i style="width:5.78px;font-size:11px"><b style="transform:scaleX(0.926)">1</b></i><i style="width:5.78px;font-size:11px"><b style="transform:scaleX(0.926)">5</b></i><i style="width:5.78px;font-size:11px"><b style="transform:scaleX(0.926)">2</b></i><i style="width:5.78px;font-size:11px"><b style="transform:scaleX(0.926)">0</b></i><i style="width:5.78px;font-size:11px"><b style="transform:scaleX(0.926)">3</b></i><i style="width:5.78px;font-size:11px"><b style="transform:scaleX(1.500)">-</b></i><i style="width:5.78px;font-size:11px"><b style="transform:scaleX(0.926)">2</b></i><i style="width:5.78px;font-size:11px"><b style="transform:scaleX(0.926)">0</b></i><i style="width:5.78px;font-size:11px"><b style="transform:scaleX(0.926)">1</b></i><i style="width:5.78px;font-size:11px"><b style="transform:scaleX(0.926)">4</b></i><i style="width:11.56px">）</i><i style="width:11.56px">、</i><i style="width:11.56px">《</i><i style="width:11.56px">食</i><i style="width:11.56px">品</i><i style="width:11.56px">安</i><i style="width:11.56px">全</i><i style="width:11.56px">国</i><i style="width:11.56px">家</i><i style="width:11.56px">标</i><i style="width:11.56px">准</i><i style="width:5.78px;font-size:11px">&nbsp;</i><i style="width:11.56px">食</i><i style="width:11.56px">品</i><i style="width:11.56px">添</i><i style="width:11.56px">加</i><i style="width:11.56px">剂</i><i style="width:11.56px">使</i><i style="width:11.56px">用</i><i style="width:11.56px">标</i><i style="width:11.56px">准</i><i style="width:11.56px">》</i><i style="width:11.56px">（</i><i style="width:5.78px;font-size:11px"><b style="transform:scaleX(0.662)">G</b></i><i style="width:5.78px;font-size:11px"><b style="transform:scaleX(0.772)">B</b></i><i style="width:5.78px;font-size:11px">&nbsp;</i><i style="width:5.78px;font-size:11px"><b style="transform:scaleX(0.926)">2</b></i><i style="width:5.78px;font-size:11px"><b style="transform:scaleX(0.926)">7</b></i><i style="width:5.78px;font-size:11px"><b style="transform:scaleX(0.926)">6</b></i><i style="width:5.78px;font-size:11px"><b style="transform:scaleX(0.926)">0</b></i><i style="width:5.78px;font-size:11px"><b style="transform:scaleX(1.500)">-</b></i><i style="width:5.78px;font-size:11px"><b style="transform:scaleX(0.926)">2</b></i><i style="width:5.78px;font-size:11px"><b style="transform:scaleX(0.926)">0</b></i><i style="width:5.78px;font-size:11px"><b style="transform:scaleX(0.926)">2</b></i><i style="width:5.78px;font-size:11px"><b style="transform:scaleX(0.926)">4</b></i><i style="width:11.56px">）</i><i style="width:11.56px">，</i><i style="width:11.56px">以</i><i style="width:11.56px">原</i><i style="width:11.56px">文</i><i style="width:11.56px">件</i><i style="width:11.56px">为</i><i style="width:11.56px">准</i><i style="width:11.56px">，</i><i style="width:11.56px">数</i><i style="width:11.56px">据</i><i style="width:11.56px">仅</i><i style="width:11.56px">供</i><i style="width:11.56px">参</i><i style="width:11.56px">考</i><i style="width:11.56px">。</i></div>
<div class="r" style="left:1040px;top:69.5px;font-size:8.3px;line-height:12px;font-weight:bold;color:#3E3E2E;letter-spacing:0.3px">多安普</div>

</body></html>
